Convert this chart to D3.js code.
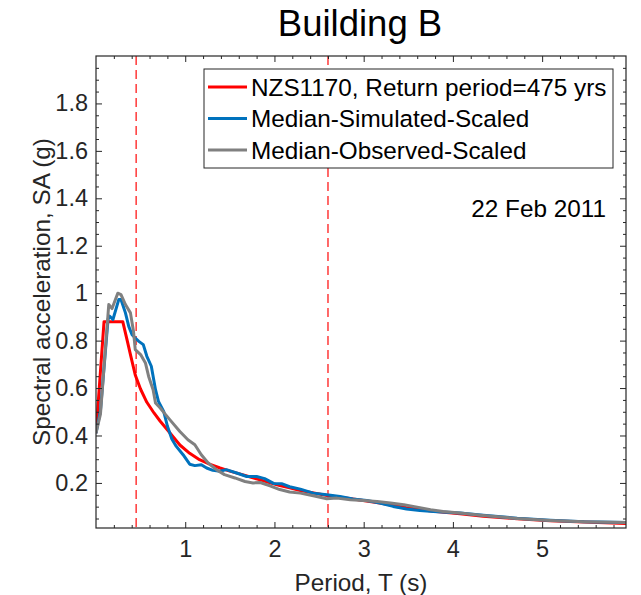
<!DOCTYPE html>
<html>
<head>
<meta charset="utf-8">
<script src="https://cdn.jsdelivr.net/npm/d3@7"></script>
<style>
  html, body { margin: 0; padding: 0; background: #fff; }
  svg { display: block; font-family: "Liberation Sans", Arial, sans-serif; }
</style>
</head>
<body>
<svg id="chart" width="641" height="595"></svg>
<script>
// NZS1170 design spectrum (475-year return period)
const nzsT  = [0, 0.09, 0.30, 0.35, 0.39, 0.44, 0.50, 0.57, 0.65, 0.72, 0.82, 0.94, 1.05, 1.16, 1.28, 1.39, 1.50, 1.61, 1.72, 1.84, 1.95, 2.06, 2.17, 2.29, 2.59, 2.88, 3.18, 3.48, 3.78, 4.08, 4.34, 4.72, 5.09, 5.47, 5.94];
const nzsSA = [0.41, 0.88, 0.88, 0.80, 0.735, 0.655, 0.595, 0.54, 0.495, 0.46, 0.415, 0.36, 0.325, 0.298, 0.278, 0.263, 0.25, 0.238, 0.226, 0.213, 0.201, 0.189, 0.179, 0.168, 0.147, 0.132, 0.115, 0.095, 0.081, 0.070, 0.060, 0.049, 0.041, 0.035, 0.029];

// Median of the scaled simulated records
const simT  = [0, 0.05, 0.135, 0.154, 0.19, 0.255, 0.28, 0.33, 0.367, 0.404, 0.44, 0.48, 0.53, 0.57, 0.62, 0.667, 0.70, 0.76, 0.80, 0.85, 0.90, 0.976, 1.05, 1.108, 1.18, 1.24, 1.31, 1.39, 1.46, 1.576, 1.69, 1.80, 1.89, 1.99, 2.08, 2.17, 2.29, 2.435, 2.586, 2.735, 2.88, 3.035, 3.18, 3.33, 3.48, 3.63, 3.78, 3.93, 4.08, 4.34, 4.72, 5.09, 5.47, 5.94];
const simSA = [0.41, 0.505, 0.89, 0.903, 0.889, 0.973, 0.973, 0.917, 0.86, 0.825, 0.811, 0.797, 0.783, 0.734, 0.692, 0.593, 0.544, 0.50, 0.44, 0.385, 0.354, 0.319, 0.279, 0.273, 0.277, 0.263, 0.253, 0.249, 0.256, 0.242, 0.227, 0.227, 0.218, 0.198, 0.197, 0.184, 0.174, 0.157, 0.150, 0.143, 0.132, 0.126, 0.115, 0.101, 0.090, 0.084, 0.080, 0.076, 0.073, 0.064, 0.051, 0.043, 0.036, 0.033];

// Median of the scaled observed records
const obsT  = [0, 0.05, 0.143, 0.18, 0.244, 0.28, 0.33, 0.386, 0.42, 0.44, 0.50, 0.554, 0.59, 0.64, 0.667, 0.72, 0.78, 0.827, 0.94, 1.03, 1.108, 1.18, 1.257, 1.35, 1.44, 1.557, 1.67, 1.76, 1.84, 1.95, 2.06, 2.17, 2.29, 2.435, 2.586, 2.70, 2.85, 3.0, 3.15, 3.30, 3.45, 3.60, 3.75, 3.89, 4.08, 4.34, 4.72, 5.09, 5.47, 5.94];
const obsSA = [0.41, 0.49, 0.952, 0.935, 1.0, 0.994, 0.952, 0.917, 0.84, 0.762, 0.741, 0.706, 0.649, 0.593, 0.537, 0.516, 0.488, 0.467, 0.417, 0.382, 0.361, 0.319, 0.284, 0.256, 0.235, 0.221, 0.206, 0.200, 0.202, 0.188, 0.172, 0.162, 0.157, 0.146, 0.133, 0.136, 0.129, 0.126, 0.122, 0.115, 0.108, 0.098, 0.087, 0.080, 0.073, 0.063, 0.050, 0.042, 0.036, 0.033];

// Period range markers
const periodBounds = [0.45, 2.6];

// Axis ticks
const xTicks = [1, 2, 3, 4, 5];
const xMinorTicks = d3.range(1, 30).map(i => +(i * 0.2).toFixed(1));
const yTicks = [0.2, 0.4, 0.6, 0.8, 1.0, 1.2, 1.4, 1.6, 1.8];
const yMinorTicks = d3.range(1, 40).map(i => +(i * 0.05).toFixed(2));

const seriesNames = ["NZS1170, Return period=475 yrs", "Median-Simulated-Scaled", "Median-Observed-Scaled"];
const seriesColors = ["#ff0000", "#0072bd", "#808080"];

const svg = d3.select("#chart");
const m = { left: 96, right: 626, top: 56, bottom: 528 };
const axisColor = "#262626";
const tickFont = 23.5, labelFont = 24.3;

const x = d3.scaleLinear().domain([0, 5.94]).range([m.left, m.right]);
const y = d3.scaleLinear().domain([0.01, 2.0]).range([m.bottom, m.top]);

const plotArea = svg.append("g");
svg.append("defs").append("clipPath").attr("id", "clip")
  .append("rect").attr("x", m.left).attr("y", m.top)
  .attr("width", m.right - m.left).attr("height", m.bottom - m.top);

// Dashed period bounds
plotArea.selectAll("line.bound").data(periodBounds).enter().append("line")
  .attr("class", "bound")
  .attr("x1", d => x(d)).attr("x2", d => x(d))
  .attr("y1", m.top).attr("y2", m.bottom)
  .attr("stroke", "#ff2a2a").attr("stroke-width", 1.4)
  .attr("stroke-dasharray", "9,5");

// Spectra
const series = [
  { T: nzsT, SA: nzsSA },
  { T: simT, SA: simSA },
  { T: obsT, SA: obsSA }
];
const line = d3.line().x(d => x(d[0])).y(d => y(d[1]));
const curves = plotArea.append("g").attr("clip-path", "url(#clip)");
series.forEach((s, i) => {
  curves.append("path")
    .datum(s.T.map((t, k) => [t, s.SA[k]]))
    .attr("d", line)
    .attr("fill", "none")
    .attr("stroke", seriesColors[i])
    .attr("stroke-width", 3)
    .attr("stroke-linejoin", "round");
});

// Axes with inward ticks on all four sides
function styleAxis(g) {
  g.select(".domain").remove();
  g.selectAll(".tick line").attr("stroke", axisColor);
  g.selectAll(".tick text").attr("fill", axisColor)
    .attr("font-size", tickFont)
    .attr("font-family", "Liberation Sans, Arial, sans-serif");
}

const xMinorVals = xMinorTicks.filter(v => !xTicks.includes(v));
svg.append("g").attr("transform", `translate(0,${m.bottom})`)
  .call(d3.axisBottom(x).tickValues(xTicks).tickSize(-6).tickPadding(12).tickFormat(d3.format("d"))).call(styleAxis);
svg.append("g").attr("transform", `translate(0,${m.bottom})`)
  .call(d3.axisBottom(x).tickValues(xMinorVals).tickSize(-3).tickFormat("")).call(styleAxis);
svg.append("g").attr("transform", `translate(0,${m.top})`)
  .call(d3.axisTop(x).tickValues(xTicks).tickSize(-6).tickFormat("")).call(styleAxis);
svg.append("g").attr("transform", `translate(0,${m.top})`)
  .call(d3.axisTop(x).tickValues(xMinorVals).tickSize(-3).tickFormat("")).call(styleAxis);

const yFmt = d => (d === 1 ? "1" : d3.format(".1f")(d));
const yMinorVals = yMinorTicks.filter(v => !yTicks.some(t => Math.abs(t - v) < 1e-6));
svg.append("g").attr("transform", `translate(${m.left},0)`)
  .call(d3.axisLeft(y).tickValues(yTicks).tickSize(-6).tickPadding(8).tickFormat(yFmt)).call(styleAxis);
svg.append("g").attr("transform", `translate(${m.left},0)`)
  .call(d3.axisLeft(y).tickValues(yMinorVals).tickSize(-3).tickFormat("")).call(styleAxis);
svg.append("g").attr("transform", `translate(${m.right},0)`)
  .call(d3.axisRight(y).tickValues(yTicks).tickSize(-6).tickFormat("")).call(styleAxis);
svg.append("g").attr("transform", `translate(${m.right},0)`)
  .call(d3.axisRight(y).tickValues(yMinorVals).tickSize(-3).tickFormat("")).call(styleAxis);

// Axes box
svg.append("rect")
  .attr("x", m.left).attr("y", m.top)
  .attr("width", m.right - m.left).attr("height", m.bottom - m.top)
  .attr("fill", "none").attr("stroke", axisColor).attr("stroke-width", 1.2);

// Title and axis labels
svg.append("text").attr("x", (m.left + m.right) / 2 - 1).attr("y", 36)
  .attr("text-anchor", "middle").attr("font-size", 36.5).attr("fill", "#000")
  .text("Building B");
svg.append("text").attr("x", (m.left + m.right) / 2).attr("y", 591)
  .attr("text-anchor", "middle").attr("font-size", labelFont).attr("fill", axisColor)
  .text("Period, T (s)");
svg.append("text")
  .attr("transform", `translate(50,${(m.top + m.bottom) / 2}) rotate(-90)`)
  .attr("text-anchor", "middle").attr("font-size", labelFont).attr("fill", axisColor)
  .text("Spectral acceleration, SA (g)");

// Event annotation
svg.append("text").attr("x", 606).attr("y", 217)
  .attr("text-anchor", "end").attr("font-size", labelFont).attr("fill", "#000")
  .text("22 Feb 2011");

// Legend
const legend = svg.append("g");
legend.append("rect").attr("x", 204).attr("y", 69).attr("width", 409).attr("height", 99)
  .attr("fill", "#fff").attr("stroke", axisColor).attr("stroke-width", 1);
seriesNames.forEach((name, i) => {
  const cy = 87 + i * 31.5;
  legend.append("line").attr("x1", 208).attr("x2", 247).attr("y1", cy).attr("y2", cy)
    .attr("stroke", seriesColors[i]).attr("stroke-width", 3);
  legend.append("text").attr("x", 251).attr("y", cy + 8.5)
    .attr("font-size", labelFont).attr("fill", "#000").text(name);
});
</script>
</body>
</html>
